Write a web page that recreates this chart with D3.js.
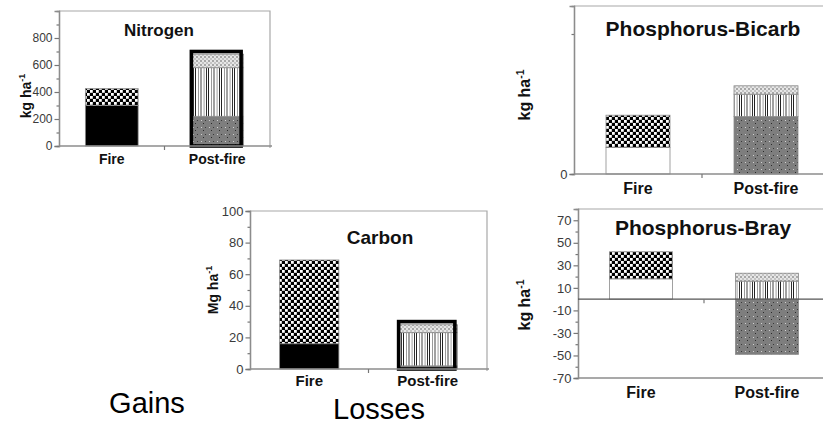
<!DOCTYPE html>
<html>
<head>
<meta charset="utf-8">
<script src="https://cdn.jsdelivr.net/npm/d3@7"></script>
<style>
  body { margin: 0; background: #fff; }
  svg { display: block; font-family: "Liberation Sans", Arial, Helvetica, sans-serif; }
</style>
</head>
<body>
<svg id="chart" width="823" height="429"></svg>
<script>
// categories and stacked components (bottom to top order)
const categories = ["Fire", "Post-fire"];
const layerKeys = ["solid", "open", "dotted", "checker", "striped", "fine"];

const nitrogen = [
  {category: "Fire", solid: 300, open: 0, dotted: 0, checker: 125, striped: 0, fine: 0},
  {category: "Post-fire", solid: 0, open: 0, dotted: 220, checker: 0, striped: 360, fine: 100}
];
const nitrogenOutline = [0, 700];
const nitrogenTicks = [0, 200, 400, 600, 800];
const nitrogenMinor = [100, 300, 500, 700, 900];

const carbon = [
  {category: "Fire", solid: 16, open: 0, dotted: 0, checker: 53, striped: 0, fine: 0},
  {category: "Post-fire", solid: 0, open: 0, dotted: 2, checker: 0, striped: 21, fine: 5}
];
const carbonOutline = [0, 30];
const carbonTicks = [0, 20, 40, 60, 80, 100];
const carbonMinor = [10, 30, 50, 70, 90];

const bicarb = [
  {category: "Fire", solid: 0, open: 19, dotted: 0, checker: 23, striped: 0, fine: 0},
  {category: "Post-fire", solid: 0, open: 0, dotted: 41, checker: 0, striped: 16, fine: 6}
];
const bicarbTicks = [0];
const bicarbMinor = [100];

const bray = [
  {category: "Fire", solid: 0, open: 18, dotted: 0, checker: 24, striped: 0, fine: 0},
  {category: "Post-fire", solid: 0, open: 0, dotted: -49, checker: 0, striped: 16, fine: 7}
];
const brayTicks = [70, 50, 30, 10, -10, -30, -50, -70];
const brayMinor = [60, 40, 20, -20, -40, -60];

const svg = d3.select("#chart");
const defs = svg.append("defs");

// fill textures
function pattern(id, w, h, bg, marks) {
  const p = defs.append("pattern").attr("id", id)
    .attr("width", w).attr("height", h)
    .attr("patternUnits", "userSpaceOnUse");
  p.append("rect").attr("width", w).attr("height", h).attr("fill", bg);
  marks.forEach(m => p.append("rect")
    .attr("x", m[0]).attr("y", m[1]).attr("width", m[2]).attr("height", m[3]).attr("fill", m[4]));
}
pattern("checker", 6, 6, "#000", [[0, 0, 2.8, 2.8, "#fff"], [3, 3, 2.8, 2.8, "#fff"]]);
pattern("fine", 4, 4, "#e6e6e6", [[0, 0, 2, 2, "#a8a8a8"], [2, 2, 2, 2, "#c4c4c4"]]);
pattern("striped", 13, 4, "#fff", [
  [0, 0, 1, 4, "#222"], [3, 0, 1, 4, "#9a9a9a"], [5.5, 0, 1, 4, "#444"],
  [8.5, 0, 1.2, 4, "#b0b0b0"], [11, 0, 1, 4, "#333"]
]);
pattern("dotted", 8, 7, "#7e7e7e", [
  [1, 1, 1, 1, "#d0d0d0"], [5, 1, 1, 1, "#3a3a3a"], [3, 4, 1, 1, "#2a2a2a"]
]);

const fills = {
  solid: "#000",
  open: "#fff",
  dotted: "url(#dotted)",
  checker: "url(#checker)",
  striped: "url(#striped)",
  fine: "url(#fine)"
};

const stack = d3.stack().keys(layerKeys).offset(d3.stackOffsetDiverging);

function drawPanel(o) {
  const g = svg.append("g");
  const x = d3.scaleBand().domain(categories).range([o.left, o.right]);
  const y = d3.scaleLinear().domain(o.domain).range([o.bottom, o.top]);
  const barW = x.bandwidth() * 0.5;
  const barX = c => x(c) + (x.bandwidth() - barW) / 2;

  // frame: top and right sides
  g.append("path")
    .attr("d", `M${o.left},${y(o.domain[1])}H${o.right}V${y(o.domain[0]) + 2}`)
    .attr("fill", "none").attr("stroke", "#a8a8a8").attr("stroke-width", 1.2);

  // bars
  const series = stack(o.data);
  series.forEach(s => {
    g.selectAll(null)
      .data(s.filter(d => d[1] !== d[0]))
      .join("rect")
      .attr("x", d => barX(d.data.category))
      .attr("width", barW)
      .attr("y", d => y(Math.max(d[0], d[1])))
      .attr("height", d => Math.abs(y(d[0]) - y(d[1])))
      .attr("fill", fills[s.key])
      .attr("stroke", "#8a8a8a")
      .attr("stroke-width", 0.8);
  });

  // thick outline boxes
  if (o.outline) {
    g.selectAll(null)
      .data(categories.map((c, i) => ({category: c, value: o.outline[i]})).filter(d => d.value))
      .join("rect")
      .attr("x", d => barX(d.category) + 0.5)
      .attr("width", barW - 3)
      .attr("y", d => y(d.value))
      .attr("height", d => y(0) - y(d.value))
      .attr("fill", "none")
      .attr("stroke", "#000")
      .attr("stroke-width", 3.6);
  }

  // y axis
  const minor = g.append("g").attr("transform", `translate(${o.left},0)`)
    .call(d3.axisLeft(y).tickValues(o.minor).tickSize(2.5).tickFormat(""));
  const major = g.append("g").attr("transform", `translate(${o.left},0)`)
    .call(d3.axisLeft(y).tickValues(o.ticks).tickSize(4.5).tickPadding(2).tickFormat(d => String(d)));
  [minor, major].forEach(a => {
    a.select(".domain").attr("stroke", "#8c8c8c").attr("stroke-width", 1.3);
    a.selectAll(".tick line").attr("stroke", "#777").attr("stroke-width", 1.2);
  });
  major.selectAll(".tick text")
    .attr("fill", "#3a3a3a")
    .style("font-size", o.tickSize + "px");

  // bottom frame line and baseline
  const yb = y(o.domain[0]);
  g.append("line").attr("x1", o.left).attr("x2", o.right + 2)
    .attr("y1", yb).attr("y2", yb).attr("stroke", "#8c8c8c").attr("stroke-width", 1.3);
  if (o.domain[0] < 0) {
    g.append("line").attr("x1", o.left).attr("x2", o.right)
      .attr("y1", y(0)).attr("y2", y(0)).attr("stroke", "#555").attr("stroke-width", 1.2);
  }
  const mid = x(categories[1]);
  g.append("line").attr("x1", mid).attr("x2", mid)
    .attr("y1", y(0)).attr("y2", y(0) + 4).attr("stroke", "#777").attr("stroke-width", 1.2);

  // category labels
  g.selectAll(null).data(categories).join("text")
    .attr("x", c => x(c) + x.bandwidth() / 2)
    .attr("y", o.catY)
    .attr("text-anchor", "middle")
    .style("font-size", o.catSize + "px")
    .style("font-weight", "bold")
    .attr("fill", "#111")
    .text(c => c);

  // title
  g.append("text")
    .attr("x", o.titleX).attr("y", o.titleY)
    .attr("text-anchor", "middle")
    .style("font-size", o.titleSize + "px")
    .style("font-weight", "bold")
    .attr("fill", "#111")
    .text(o.title);

  // y label with superscript
  const yl = g.append("text")
    .attr("transform", `translate(${o.labelX},${o.labelY}) rotate(-90)`)
    .attr("text-anchor", "middle")
    .style("font-size", o.labelSize + "px")
    .style("font-weight", "bold")
    .attr("fill", "#111");
  yl.append("tspan").text(o.unit);
  yl.append("tspan").attr("dy", -o.labelSize * 0.4)
    .style("font-size", (o.labelSize * 0.65) + "px").text("-1");
}

drawPanel({
  data: nitrogen, outline: nitrogenOutline, ticks: nitrogenTicks, minor: nitrogenMinor,
  domain: [0, 1000], left: 59, right: 270, top: 11, bottom: 146,
  tickSize: 12, catY: 164, catSize: 14,
  title: "Nitrogen", titleX: 159, titleY: 36, titleSize: 17,
  unit: "kg ha", labelX: 31, labelY: 96, labelSize: 14
});

drawPanel({
  data: carbon, outline: carbonOutline, ticks: carbonTicks, minor: carbonMinor,
  domain: [0, 100], left: 250, right: 487, top: 211, bottom: 369,
  tickSize: 13, catY: 386, catSize: 15,
  title: "Carbon", titleX: 380, titleY: 244, titleSize: 19,
  unit: "Mg ha", labelX: 218, labelY: 290, labelSize: 14
});

drawPanel({
  data: bicarb, outline: null, ticks: bicarbTicks, minor: bicarbMinor,
  domain: [0, 120], left: 574, right: 830, top: 6, bottom: 174,
  tickSize: 13, catY: 194, catSize: 16,
  title: "Phosphorus-Bicarb", titleX: 703, titleY: 36, titleSize: 21,
  unit: "kg ha", labelX: 530, labelY: 95, labelSize: 16
});

drawPanel({
  data: bray, outline: null, ticks: brayTicks, minor: brayMinor,
  domain: [-70, 80], left: 578, right: 830, top: 209, bottom: 378,
  tickSize: 13, catY: 398, catSize: 16,
  title: "Phosphorus-Bray", titleX: 703, titleY: 235, titleSize: 21,
  unit: "kg ha", labelX: 530, labelY: 305, labelSize: 16
});

// gains / losses captions
svg.append("text").attr("x", 147).attr("y", 413)
  .attr("text-anchor", "middle").style("font-size", "29px").attr("fill", "#000").text("Gains");
svg.append("text").attr("x", 379).attr("y", 419)
  .attr("text-anchor", "middle").style("font-size", "29px").attr("fill", "#000").text("Losses");
</script>
</body>
</html>
